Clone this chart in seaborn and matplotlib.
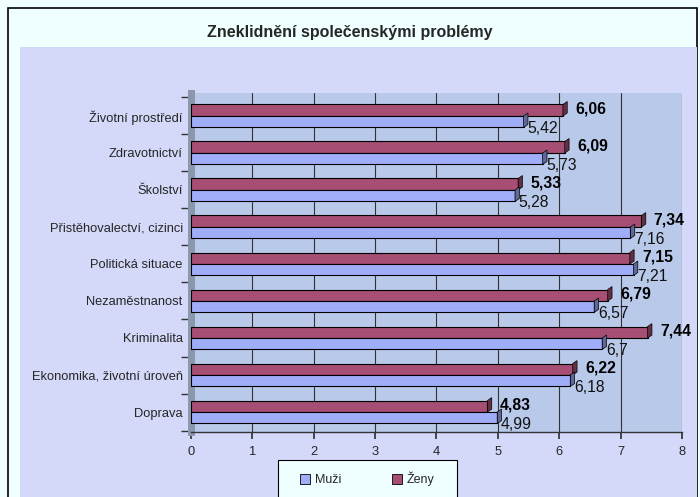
import matplotlib
matplotlib.use("Agg")
import matplotlib.pyplot as plt
import seaborn as sns
import pandas as pd
from matplotlib.patches import Rectangle, Patch, Polygon
from matplotlib.colors import to_rgb

categories = ["Životní prostředí", "Zdravotnictví", "Školství", "Přistěhovalectví, cizinci",
              "Politická situace", "Nezaměstnanost", "Kriminalita",
              "Ekonomika, životní úroveň", "Doprava"]
zeny = [6.06, 6.09, 5.33, 7.34, 7.15, 6.79, 7.44, 6.22, 4.83]
muzi = [5.42, 5.73, 5.28, 7.16, 7.21, 6.57, 6.7, 6.18, 4.99]
series_names = ["Ženy", "Muži"]
title = "Zneklidnění společenskými problémy"

c_zeny = "#A64E73"
c_muzi = "#A0ADF8"

sns.set_theme(style="white")
plt.rcParams["font.family"] = ["Liberation Sans", "DejaVu Sans"]

df = pd.DataFrame({
    "cat": categories * 2,
    "val": zeny + muzi,
    "ser": [series_names[0]] * len(categories) + [series_names[1]] * len(categories),
})

fig = plt.figure(figsize=(7, 4.97), dpi=100)
fig.patch.set_facecolor("#F0FFFF")
# outer frame
fig.patches.append(Rectangle((8 / 700, -0.01), 0.995 - 8 / 700, 1 - 8 / 497 + 0.01,
                             transform=fig.transFigure, fill=False, edgecolor="black",
                             linewidth=1.2, zorder=-10))
# plot area background
fig.patches.append(Rectangle((20 / 700, 0), 677 / 700, 1 - 47 / 497,
                             transform=fig.transFigure, facecolor="#D4D9FA",
                             edgecolor="none", zorder=-10))

ax = fig.add_axes([191 / 700, 1 - 432 / 497, 491 / 700, (432 - 93) / 497])
ax.set_zorder(2)
ax.set_facecolor("#B9C9E9")

sns.barplot(data=df, x="val", y="cat", hue="ser", hue_order=series_names,
            palette=[c_zeny, c_muzi], orient="h", width=0.62, saturation=1,
            edgecolor="black", linewidth=0.8, ax=ax, legend=False, zorder=3)

# small 3D end caps on the bars
dx, dy = 0.07, 0.08
for p in list(ax.patches):
    x1 = p.get_x() + p.get_width()
    y0 = p.get_y()
    y1 = y0 + p.get_height()
    fc = to_rgb(p.get_facecolor())
    dark = tuple(c * 0.6 for c in fc)
    ax.add_patch(Polygon([(x1, y0), (x1 + dx, y0 - dy), (x1 + dx, y1 - dy), (x1, y1)],
                         closed=True, facecolor=dark, edgecolor="black",
                         linewidth=0.5, zorder=3))

ax.set_xlim(0, 8)
ax.set_ylim(8.54, -0.62)
ax.set_xticks(range(0, 9))
ax.set_xlabel("")
ax.set_ylabel("")
ax.grid(axis="x", color="#333333", linewidth=0.8, zorder=0)
ax.set_axisbelow(True)

for s in ["top", "right"]:
    ax.spines[s].set_visible(False)
ax.spines["left"].set_color("#8A97AC")
ax.spines["left"].set_linewidth(5)
ax.spines["bottom"].set_color("#333333")
ax.spines["bottom"].set_linewidth(1)

ax.tick_params(axis="x", length=5, color="#333333", labelsize=9.3, pad=5, bottom=True)
ax.tick_params(axis="y", length=0, labelsize=9.3, pad=6)
ax.set_yticks([i + 0.5 for i in range(-1, len(categories))], minor=True)
ax.tick_params(axis="y", which="minor", length=7, color="#333333", left=True)

def fmt(v):
    return str(v).replace(".", ",")

for i, (z, m) in enumerate(zip(zeny, muzi)):
    ax.text(z + 0.2, i - 0.2, fmt(z), fontsize=11.3, fontweight="bold",
            va="center", ha="left", color="black", zorder=5)
    ax.text(m + 0.06, i + 0.33, fmt(m), fontsize=11.3, va="center", ha="left",
            color="#111111", zorder=5)

fig.text(0.5, 1 - 32 / 497, title, ha="center", va="center",
         fontsize=11.5, fontweight="bold")

# legend box
fig.patches.append(Rectangle((278 / 700, -0.02), 179 / 700, 1 - 460 / 497 + 0.02,
                             transform=fig.transFigure, facecolor="#F0FFFF",
                             edgecolor="black", linewidth=0.8, zorder=5))
handles = [Patch(facecolor=c_muzi, edgecolor="black", linewidth=0.6, label=series_names[1]),
           Patch(facecolor=c_zeny, edgecolor="black", linewidth=0.6, label=series_names[0])]
leg = fig.legend(handles=handles, loc="center", ncol=2,
                 bbox_to_anchor=(367.5 / 700, 1 - 479 / 497),
                 frameon=False, fontsize=9, handlelength=0.8,
                 handleheight=0.8, handletextpad=0.4, columnspacing=4.0,
                 borderpad=0, borderaxespad=0)
leg.set_zorder(6)

fig.savefig("out.png", dpi=100, facecolor=fig.get_facecolor())
